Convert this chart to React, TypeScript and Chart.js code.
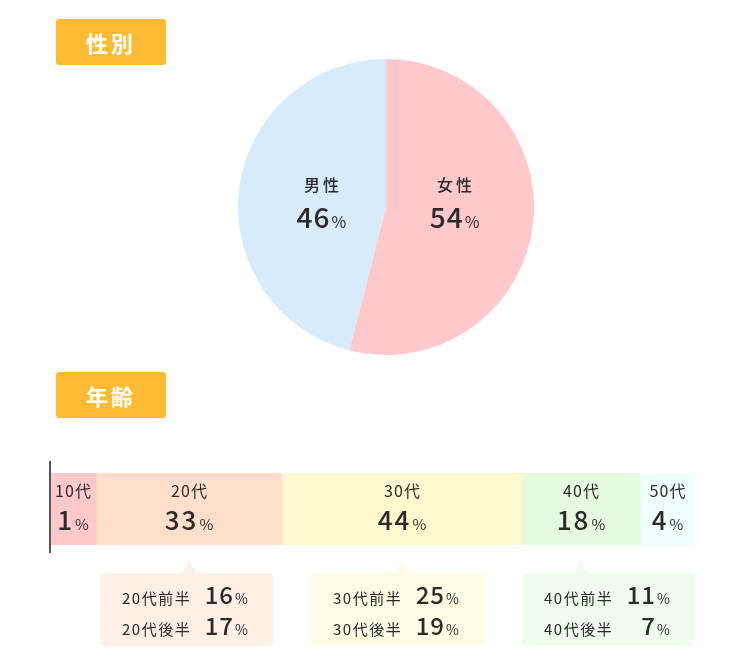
import React, { useEffect, useRef } from "react";
import { Chart, registerables } from "chart.js";

Chart.register(...registerables);

const FONT = '"Noto Sans CJK JP", "Noto Sans", sans-serif';
const TEXT = "#2b2b2b";

// --- gender (pie) ---
const genderLabels = ["女性", "男性"];
const genderShares = [54, 46];
const genderColors = ["#FFC9CB", "#D7EBFB"];

// --- age (stacked bar) ---
const ageLabels = ["10代", "20代", "30代", "40代", "50代"];
const ageShares = [1, 33, 44, 18, 4];
// segment lengths as drawn in the reference (not proportional to the shares)
const ageBarWeights = [46, 186, 240, 118, 55];
const ageColors = ["#FFC9CB", "#FFDFCC", "#FFF8CF", "#E6FADF", "#EFFFFC"];

// --- sub groups (callouts) ---
const subParents = [1, 2, 3];
const subLabels = [
  ["20代前半", "20代後半"],
  ["30代前半", "30代後半"],
  ["40代前半", "40代後半"],
];
const subShares = [
  [16, 17],
  [25, 19],
  [11, 7],
];
const subColors = ["#FFF0E6", "#FFFCE6", "#F0FCEE"];

function drawValue(
  ctx: CanvasRenderingContext2D,
  cx: number,
  baseline: number,
  num: number,
  big: number,
  small: number,
  spacing = "1px"
) {
  ctx.save();
  ctx.fillStyle = TEXT;
  ctx.textBaseline = "alphabetic";
  ctx.textAlign = "left";
  (ctx as any).letterSpacing = spacing;
  ctx.font = `500 ${big}px ${FONT}`;
  const s = String(num);
  const wn = ctx.measureText(s).width;
  ctx.font = `400 ${small}px ${FONT}`;
  (ctx as any).letterSpacing = "0px";
  const wp = ctx.measureText("%").width;
  const gap = 1;
  const total = wn + gap + wp;
  const x0 = cx - total / 2;
  (ctx as any).letterSpacing = spacing;
  ctx.font = `500 ${big}px ${FONT}`;
  ctx.fillText(s, x0, baseline);
  (ctx as any).letterSpacing = "0px";
  ctx.font = `400 ${small}px ${FONT}`;
  ctx.fillText("%", x0 + wn + gap, baseline);
  ctx.restore();
}

function roundRect(ctx: CanvasRenderingContext2D, x: number, y: number, w: number, h: number, r: number) {
  ctx.beginPath();
  ctx.moveTo(x + r, y);
  ctx.lineTo(x + w - r, y);
  ctx.quadraticCurveTo(x + w, y, x + w, y + r);
  ctx.lineTo(x + w, y + h - r);
  ctx.quadraticCurveTo(x + w, y + h, x + w - r, y + h);
  ctx.lineTo(x + r, y + h);
  ctx.quadraticCurveTo(x, y + h, x, y + h - r);
  ctx.lineTo(x, y + r);
  ctx.quadraticCurveTo(x, y, x + r, y);
  ctx.closePath();
}

const pieLabelPlugin = {
  id: "pieLabels",
  afterDatasetsDraw(chart: any) {
    const ctx: CanvasRenderingContext2D = chart.ctx;
    const meta = chart.getDatasetMeta(0);
    meta.data.forEach((el: any, i: number) => {
      const p = el.getProps(["x", "y", "startAngle", "endAngle", "outerRadius"], true);
      const mid = (p.startAngle + p.endAngle) / 2;
      const side = Math.cos(mid) >= 0 ? 1 : -1;
      const r = p.outerRadius;
      const lx = p.x + side * 0.45 * r + 2;
      ctx.save();
      ctx.fillStyle = TEXT;
      ctx.textAlign = "center";
      ctx.textBaseline = "alphabetic";
      (ctx as any).letterSpacing = "3px";
      ctx.font = `500 16px ${FONT}`;
      ctx.fillText(genderLabels[i], lx + 1.5, p.y - 0.105 * r);
      ctx.restore();
      drawValue(ctx, lx, p.y + 0.14 * r, genderShares[i], 28, 16, "1px");
    });
  },
};

const barLabelPlugin = {
  id: "barLabels",
  afterDatasetsDraw(chart: any) {
    const ctx: CanvasRenderingContext2D = chart.ctx;
    const area = chart.chartArea;
    let top = area.top;
    let bottom = area.bottom;
    chart.data.datasets.forEach((_: any, i: number) => {
      const el = chart.getDatasetMeta(i).data[0];
      const p = el.getProps(["x", "y", "base", "height"], true);
      const cx = (p.x + p.base) / 2;
      top = p.y - p.height / 2;
      bottom = p.y + p.height / 2;
      ctx.save();
      ctx.fillStyle = TEXT;
      ctx.textAlign = "center";
      ctx.textBaseline = "alphabetic";
      (ctx as any).letterSpacing = "1px";
      ctx.font = `400 16px ${FONT}`;
      ctx.fillText(ageLabels[i], cx + 0.5, top + 24);
      ctx.restore();
      drawValue(ctx, cx, top + 57, ageShares[i], 26, 15, "2px");
    });

    // left axis line
    ctx.save();
    ctx.strokeStyle = "#555555";
    ctx.lineWidth = 2;
    ctx.beginPath();
    ctx.moveTo(area.left, top - 12);
    ctx.lineTo(area.left, bottom + 8);
    ctx.stroke();
    ctx.restore();

    // callouts: a row of equal boxes, right-aligned with the bar
    const boxW = 173;
    const boxH = 73;
    const step = 211;
    const n = subParents.length;
    subParents.forEach((pi, k) => {
      const el = chart.getDatasetMeta(pi).data[0];
      const p = el.getProps(["x", "base"], true);
      const cx = (p.x + p.base) / 2;
      const left = area.right - boxW - (n - 1 - k) * step;
      const boxTop = bottom + 28;
      ctx.save();
      ctx.fillStyle = subColors[k];
      roundRect(ctx, left, boxTop, boxW, boxH, 4);
      ctx.fill();
      ctx.beginPath();
      ctx.moveTo(cx - 7, boxTop + 0.5);
      ctx.lineTo(cx, bottom + 15);
      ctx.lineTo(cx + 7, boxTop + 0.5);
      ctx.closePath();
      ctx.fill();
      ctx.restore();

      subLabels[k].forEach((lab, r) => {
        const base = boxTop + 31 + r * 31;
        ctx.save();
        ctx.fillStyle = TEXT;
        ctx.textBaseline = "alphabetic";
        ctx.textAlign = "left";
        (ctx as any).letterSpacing = "1.5px";
        ctx.font = `400 15px ${FONT}`;
        ctx.fillText(lab, left + 22, base);
        (ctx as any).letterSpacing = "1px";
        ctx.font = `500 24px ${FONT}`;
        ctx.textAlign = "right";
        ctx.fillText(String(subShares[k][r]), left + 134, base);
        (ctx as any).letterSpacing = "0px";
        ctx.font = `400 14px ${FONT}`;
        ctx.textAlign = "left";
        ctx.fillText("%", left + 135, base);
        ctx.restore();
      });
    });
  },
};

function PieChart() {
  const ref = useRef<HTMLCanvasElement>(null);
  useEffect(() => {
    const chart = new Chart(ref.current!, {
      type: "pie",
      data: {
        labels: genderLabels,
        datasets: [
          {
            data: genderShares,
            backgroundColor: genderColors,
            borderWidth: 0,
          },
        ],
      },
      options: {
        animation: false,
        responsive: true,
        maintainAspectRatio: false,
        layout: { padding: 0 },
        plugins: { legend: { display: false }, tooltip: { enabled: false } },
      },
      plugins: [pieLabelPlugin],
    });
    return () => chart.destroy();
  }, []);
  return (
    <div style={{ position: "absolute", left: 238, top: 59, width: 296, height: 296 }}>
      <canvas ref={ref} />
    </div>
  );
}

function AgeBar() {
  const ref = useRef<HTMLCanvasElement>(null);
  useEffect(() => {
    const total = ageBarWeights.reduce((a, b) => a + b, 0);
    const chart = new Chart(ref.current!, {
      type: "bar",
      data: {
        labels: ["年齢"],
        datasets: ageLabels.map((l, i) => ({
          label: l,
          data: [ageBarWeights[i]],
          backgroundColor: ageColors[i],
          borderWidth: 0,
          barPercentage: 1,
          categoryPercentage: 1,
        })),
      },
      options: {
        indexAxis: "y",
        animation: false,
        responsive: true,
        maintainAspectRatio: false,
        layout: { padding: { left: 2, right: 0, top: 12, bottom: 116 } },
        scales: {
          x: { stacked: true, display: false, min: 0, max: total },
          y: { stacked: true, display: false },
        },
        plugins: { legend: { display: false }, tooltip: { enabled: false } },
      },
      plugins: [barLabelPlugin],
    });
    return () => chart.destroy();
  }, []);
  return (
    <div style={{ position: "absolute", left: 48, top: 461, width: 647, height: 200 }}>
      <canvas ref={ref} />
    </div>
  );
}

function Tag({ text, top }: { text: string; top: number }) {
  return (
    <div
      style={{
        position: "absolute",
        left: 56,
        top,
        width: 110,
        height: 46,
        background: "#FDBA33",
        borderRadius: 3,
        color: "#fff",
        fontFamily: FONT,
        fontWeight: 700,
        fontSize: 22,
        letterSpacing: 3,
        lineHeight: "46px",
        textAlign: "center",
      }}
    >
      {text}
    </div>
  );
}

export default function App() {
  return (
    <div style={{ position: "fixed", left: 0, top: 0, width: 750, height: 670, background: "#fff" }}>
      <Tag text="性別" top={19} />
      <PieChart />
      <Tag text="年齢" top={372} />
      <AgeBar />
    </div>
  );
}
